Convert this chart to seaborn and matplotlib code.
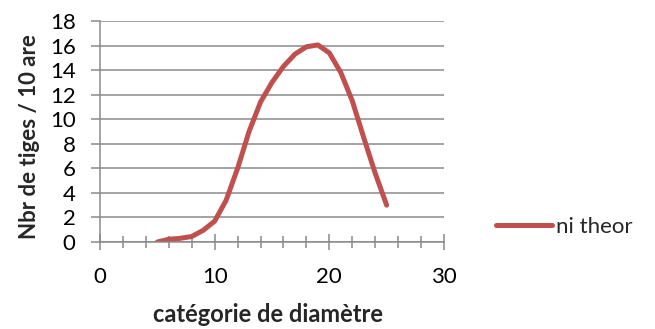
import matplotlib
matplotlib.use("Agg")
import matplotlib.pyplot as plt
from matplotlib.ticker import MultipleLocator
import seaborn as sns
import pandas as pd

# diameter classes and theoretical stem counts per 10 are
diametre = [5, 6, 7, 8, 9, 10, 11, 12, 13, 14, 15,
            16, 17, 18, 19, 20, 21, 22, 23, 24, 25]
ni_theor = [0.0, 0.22, 0.3, 0.45, 0.95, 1.7, 3.4, 6.0, 9.0, 11.4, 13.0,
            14.3, 15.3, 15.9, 16.05, 15.4, 13.8, 11.5, 8.5, 5.6, 3.0]
serie = "ni theor"
x_ticks = [0, 10, 20, 30]
y_ticks = list(range(0, 19, 2))

df = pd.DataFrame({"diametre": diametre, "ni": ni_theor, "serie": serie})

sns.set_style("white")
plt.rcParams["font.family"] = ["Lato", "DejaVu Sans"]

GRID = "#8a8a8a"
RED = "#C0504D"

fig = plt.figure(figsize=(6.55, 3.29), dpi=100)
ax = fig.add_axes([100 / 655, 87 / 329, 344 / 655, 221 / 329])

sns.lineplot(data=df, x="diametre", y="ni", hue="serie", palette=[RED],
             linewidth=3.6, ax=ax, legend=True)
for ln in ax.get_lines():
    ln.set_solid_capstyle("round")
    ln.set_solid_joinstyle("round")

ax.set_xlim(0, 30)
ax.set_ylim(0, 18)
ax.set_xticks(x_ticks)
ax.set_yticks(y_ticks)
ax.xaxis.set_minor_locator(MultipleLocator(2))

ax.yaxis.grid(True, color=GRID, linewidth=1.1)
ax.xaxis.grid(False)
ax.set_axisbelow(True)

for s in ["top", "right"]:
    ax.spines[s].set_visible(False)
for s in ["left", "bottom"]:
    ax.spines[s].set_color(GRID)
    ax.spines[s].set_linewidth(1.1)

ax.tick_params(axis="x", which="major", bottom=True, direction="inout",
               length=12, width=1.1, color=GRID, labelsize=16, pad=12,
               labelcolor="black")
ax.tick_params(axis="x", which="minor", bottom=True, direction="inout",
               length=9, width=1.1, color=GRID)
ax.tick_params(axis="y", which="major", left=True, direction="out",
               length=6.5, width=1.1, color=GRID, labelsize=16, pad=11,
               labelcolor="black")

ax.set_xlabel("catégorie de diamètre", fontsize=17, fontweight="bold",
              va="center")
ax.xaxis.set_label_coords(0.487, -0.326)
ax.set_ylabel("Nbr de tiges / 10 are", fontsize=16, fontweight="bold",
              va="center")
ax.yaxis.set_label_coords(-0.2035, 0.477)

handles, labels = ax.get_legend_handles_labels()
ax.legend(handles, labels, loc="center left",
          bbox_to_anchor=(496 / 655, 1 - 227 / 329),
          bbox_transform=fig.transFigure, frameon=False, fontsize=16,
          handlelength=2.5, handletextpad=0.2, borderpad=0, borderaxespad=0)

fig.savefig("out.png", dpi=100)
